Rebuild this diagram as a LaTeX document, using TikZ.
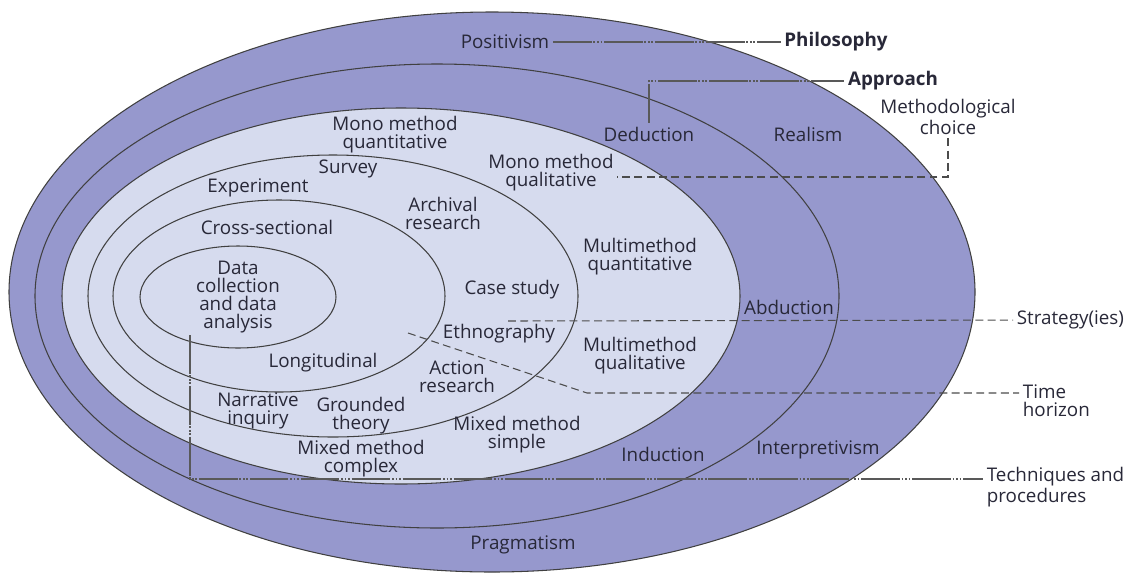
\documentclass[tikz,border=0pt]{standalone}
\usepackage{fontspec}
\setmainfont{Open Sans}
\usetikzlibrary{calc}
\definecolor{ringdark}{RGB}{150,152,205}
\definecolor{ringlight}{RGB}{214,219,238}
\definecolor{labeltext}{RGB}{40,40,56}

\begin{document}
\begin{tikzpicture}[x=0.02cm, y=-0.02cm,
  lbl/.style={text=labeltext, font=\fontsize{10.7}{10.2}\selectfont, align=center, inner sep=2pt},
  ring/.style={draw=black!75, line width=0.6pt},
  mixline/.style={black!65, line width=0.6pt, dash pattern=on 22pt off 1pt on 1pt off 1pt on 1pt off 1pt on 1pt off 1pt},
  dashline/.style={black!70, line width=0.6pt, dash pattern=on 4.5pt off 2.5pt}]
\useasboundingbox (0,0) rectangle (1136,572);

%%%onion layers
\draw[ring, fill=ringdark] (492,292) ellipse [x radius=483, y radius=280];
\draw[ring, fill=ringdark] (437,296) ellipse [x radius=402, y radius=232];
\draw[ring, fill=ringlight] (401,296) ellipse [x radius=339, y radius=188];
\draw[ring] (333,296) ellipse [x radius=245, y radius=141];
\draw[ring] (279,296) ellipse [x radius=166, y radius=96];
\draw[ring] (238,297) ellipse [x radius=98, y radius=51];

%%%philosophy
\node[lbl] (positivism) at (505,42) {Positivism};
\node[lbl] (realism) at (808,134) {Realism};
\node[lbl] (interpretivism) at (818,450) {Interpretivism};
\node[lbl] (pragmatism) at (523,545) {Pragmatism};
\node[lbl, font=\fontsize{10.7}{10.2}\selectfont\bfseries] (philosophy) at (836,42) {Philosophy};

%%%approach
\node[lbl] (deduction) at (649,134) {Deduction};
\node[lbl] (abduction) at (789,307) {Abduction};
\node[lbl] (induction) at (663,454) {Induction};
\node[lbl, font=\fontsize{10.7}{10.2}\selectfont\bfseries] (approach) at (893,81) {Approach};

%%%methodological choice
\node[lbl] (monoquant) at (395,135) {Mono method\\quantitative};
\node[lbl] (monoqual) at (551,173) {Mono method\\qualitative};
\node[lbl] (multiquant) at (640,257) {Multimethod\\quantitative};
\node[lbl] (multiqual) at (640,356) {Multimethod\\qualitative};
\node[lbl] (mixedsimple) at (517,435) {Mixed method\\simple};
\node[lbl] (mixedcomplex) at (361,459) {Mixed method\\complex};
\node[lbl] (methchoice) at (948,117) {Methodological\\choice};

%%%strategies
\node[lbl] (survey) at (348,169) {Survey};
\node[lbl] (experiment) at (258,188) {Experiment};
\node[lbl] (archival) at (443,213) {Archival\\research};
\node[lbl] (casestudy) at (512,290) {Case study};
\node[lbl] (ethnography) at (499,334) {Ethnography};
\node[lbl] (action) at (457,377) {Action\\research};
\node[lbl] (grounded) at (361,416) {Grounded\\theory};
\node[lbl] (narrative) at (258,411) {Narrative\\inquiry};
\node[lbl, anchor=west] (strategy) at (1013,320) {Strategy(ies)};

%%%time horizon
\node[lbl] (crosssect) at (267,227) {Cross-sectional};
\node[lbl] (longitudinal) at (323,363) {Longitudinal};
\node[lbl, align=left, anchor=west] (timehorizon) at (1019,401) {Time\\horizon};

%%%techniques
\node[lbl] (datacoll) at (238,297) {Data\\collection\\and data\\analysis};
\node[lbl, align=left, anchor=west] (techniques) at (983,487) {Techniques and\\procedures};

%%%connectors
\coordinate (stratstart) at (508,321);
\coordinate (timestart) at (408,333);
\coordinate (timebend) at (587,393);
\coordinate (techstart) at (190,335);
\coordinate (techcorner) at (190,479);

\draw[mixline] (positivism) -- (philosophy);
\draw[mixline] (deduction.north) |- (approach);
\draw[dashline] (methchoice) |- ($(monoqual.east)+(0,4)$);
\draw[dashline] (stratstart) -- (strategy);
\draw[dashline] (timestart) -- (timebend) -- (timebend -| timehorizon.west);
\draw[mixline] (techstart) -- (techcorner) -- (techcorner -| techniques.west);

\end{tikzpicture}
\end{document}
